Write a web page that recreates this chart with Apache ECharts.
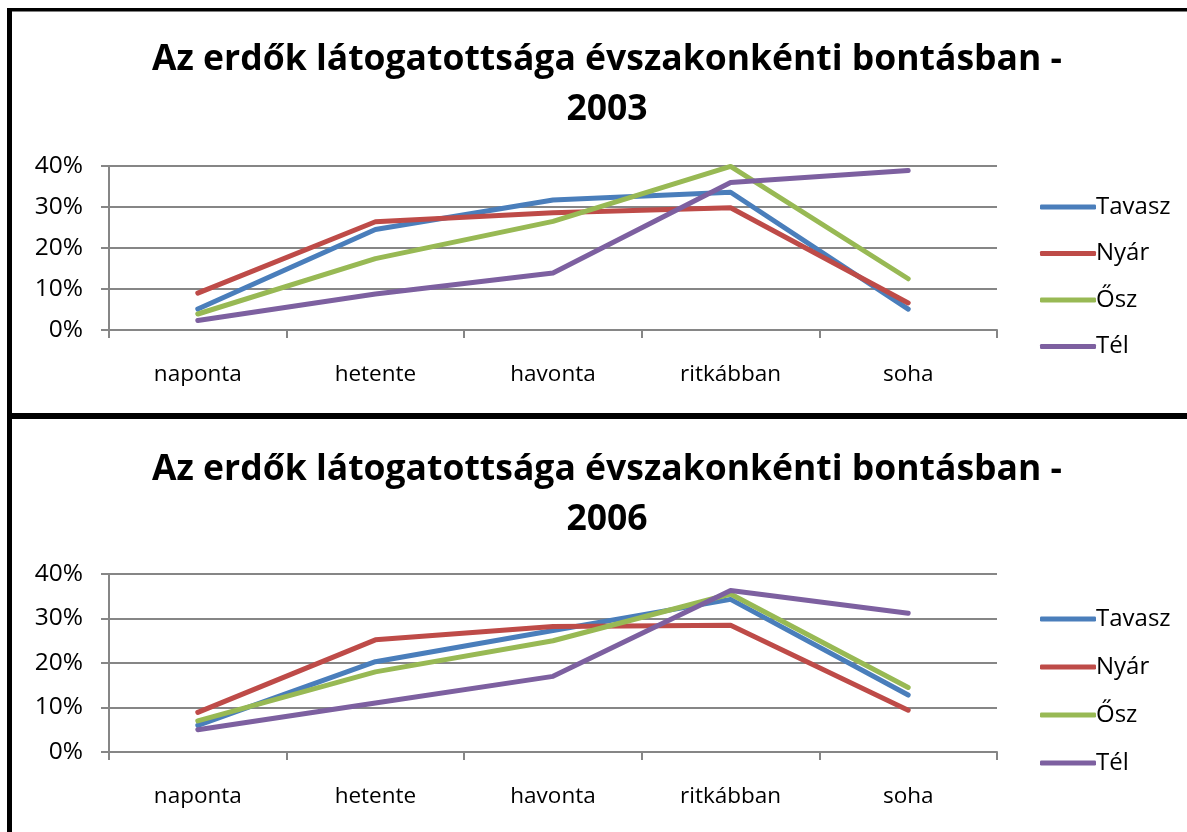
<!DOCTYPE html>
<html>
<head>
<meta charset="utf-8">
<style>
html,body{margin:0;padding:0;background:#fff;}
#chart{width:1187px;height:832px;}
</style>
<script src="https://cdn.jsdelivr.net/npm/echarts@6/dist/echarts.min.js"></script>
</head>
<body>
<div id="chart"></div>
<script>
const categories = ['naponta', 'hetente', 'havonta', 'ritkábban', 'soha'];
const seriesNames = ['Tavasz', 'Nyár', 'Ősz', 'Tél'];
const yTicks = [0, 10, 20, 30, 40];
const titles = ['Az erdők látogatottsága évszakonkénti bontásban -\n2003',
                'Az erdők látogatottsága évszakonkénti bontásban -\n2006'];

// 2003 values (%)
const tavasz2003 = [5.1, 24.5, 31.7, 33.6, 5.1];
const nyar2003   = [9.0, 26.4, 28.6, 29.8, 6.6];
const osz2003    = [3.9, 17.4, 26.5, 39.9, 12.5];
const tel2003    = [2.3, 8.8, 13.9, 36.0, 38.9];

// 2006 values (%)
const tavasz2006 = [6.0, 20.3, 27.3, 34.3, 12.8];
const nyar2006   = [8.9, 25.2, 28.2, 28.5, 9.4];
const osz2006    = [7.0, 18.0, 25.0, 35.5, 14.5];
const tel2006    = [5.0, 11.0, 17.0, 36.3, 31.2];

const colors = ['#4A7EBB', '#BE4B48', '#98B954', '#7D60A0'];
const data2003 = [tavasz2003, nyar2003, osz2003, tel2003];
const data2006 = [tavasz2006, nyar2006, osz2006, tel2006];

const FONT = '"Open Sans", Lato, sans-serif';
const chart = echarts.init(document.getElementById('chart'), null, {renderer: 'canvas'});

function xAxis(gi) {
  return {
    type: 'category', gridIndex: gi, data: categories, boundaryGap: true,
    axisLine: {lineStyle: {color: '#868686', width: 2}},
    axisTick: {show: true, length: 8, lineStyle: {color: '#868686', width: 2}},
    axisLabel: {color: '#000', fontFamily: FONT, fontSize: 22.5, margin: 33}
  };
}
function yAxis(gi) {
  return {
    type: 'value', gridIndex: gi, min: 0, max: 40, interval: 10,
    axisLine: {show: true, lineStyle: {color: '#868686', width: 2}},
    axisTick: {show: true, length: 8, lineStyle: {color: '#868686', width: 2}},
    splitLine: {show: true, lineStyle: {color: '#868686', width: 2}},
    axisLabel: {color: '#000', fontFamily: FONT, fontSize: 24.5, margin: 26,
      formatter: v => yTicks.includes(v) ? v + '%' : ''}
  };
}
function lineSeries(arr, gi) {
  return arr.map((d, i) => ({
    name: seriesNames[i], type: 'line', xAxisIndex: gi, yAxisIndex: gi,
    data: d, showSymbol: false, symbol: 'none', animation: false,
    lineStyle: {color: colors[i], width: 5, cap: 'round', join: 'round'},
    itemStyle: {color: colors[i]}
  }));
}
function legend(top, gap) {
  return {
    orient: 'vertical', left: 1035, top: top, itemWidth: 56, itemHeight: 5,
    itemGap: gap, icon: 'roundRect',
    textStyle: {color: '#000', fontFamily: FONT, fontSize: 24, lineHeight: 26, padding: [0,0,0,-5]},
    data: seriesNames
  };
}

const option = {
  animation: false,
  color: colors,
  title: [
    {text: titles[0], left: 602, top: 30, textAlign: 'center',
     textStyle: {fontFamily: FONT, fontWeight: 'bold', fontSize: 35.5, lineHeight: 50, color: '#000'}},
    {text: titles[1], left: 602, top: 440, textAlign: 'center',
     textStyle: {fontFamily: FONT, fontWeight: 'bold', fontSize: 35.5, lineHeight: 50, color: '#000'}}
  ],
  legend: [legend(189, 20.5), legend(601, 22)],
  grid: [
    {left: 109, top: 166, width: 888, height: 164},
    {left: 109, top: 574, width: 888, height: 178}
  ],
  xAxis: [xAxis(0), xAxis(1)],
  yAxis: [yAxis(0), yAxis(1)],
  series: lineSeries(data2003, 0).concat(lineSeries(data2006, 1)),
  graphic: [
    {type: 'rect', shape: {x: 7, y: 8, width: 5, height: 824}, style: {fill: '#000'}},
    {type: 'rect', shape: {x: 7, y: 8, width: 1180, height: 3.5}, style: {fill: '#000'}},
    {type: 'rect', shape: {x: 7, y: 413, width: 1180, height: 6}, style: {fill: '#000'}}
  ]
};
chart.setOption(option);
</script>
</body>
</html>
